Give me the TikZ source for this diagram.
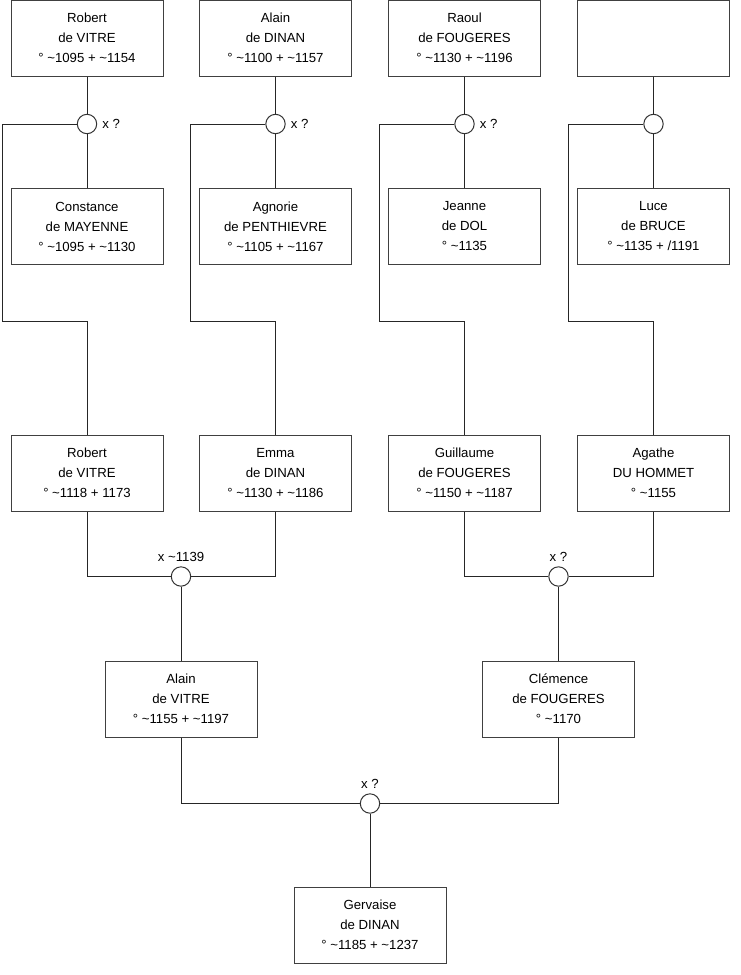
\documentclass[tikz,border=0pt]{standalone}
\usepackage{fontspec}
\setmainfont{Liberation Sans}
\begin{document}
\begin{tikzpicture}[x=1pt,y=-1pt,
  person/.style={draw=black!75, line width=1pt, rectangle, minimum width=152pt, minimum height=76pt, inner sep=0pt, align=center, font=\fontsize{13.2}{20}\selectfont, fill=white},
  union/.style={draw=black!80, line width=1pt, circle, minimum size=19.4pt, inner sep=0pt, fill=white},
  lbl/.style={font=\fontsize{13.2}{15}\selectfont, inner sep=0pt},
  link/.style={draw=black!85, line width=1pt}]
\useasboundingbox (0,0) rectangle (740,975);
% row 1
\node[person] (p11) at (87,38) {Robert\\de VITRE\\° \textasciitilde1095 + \textasciitilde1154};
\node[person] (p12) at (275.5,38) {Alain\\de DINAN\\° \textasciitilde1100 + \textasciitilde1157};
\node[person] (p13) at (464.5,38) {Raoul\\de FOUGERES\\° \textasciitilde1130 + \textasciitilde1196};
\node[person] (p14) at (653.5,38) {};
% row 2
\node[person] (p21) at (87,226.5) {Constance\\de MAYENNE\\° \textasciitilde1095 + \textasciitilde1130};
\node[person] (p22) at (275.5,226.5) {Agnorie\\de PENTHIEVRE\\° \textasciitilde1105 + \textasciitilde1167};
\node[person] (p23) at (464.5,226.5) {Jeanne\\de DOL\\° \textasciitilde1135};
\node[person] (p24) at (653.5,226.5) {Luce\\de BRUCE\\° \textasciitilde1135 + /1191};
% row 3
\node[person] (p31) at (87,473) {Robert\\de VITRE\\° \textasciitilde1118 + 1173};
\node[person] (p32) at (275.5,473) {Emma\\de DINAN\\° \textasciitilde1130 + \textasciitilde1186};
\node[person] (p33) at (464.5,473) {Guillaume\\de FOUGERES\\° \textasciitilde1150 + \textasciitilde1187};
\node[person] (p34) at (653.5,473) {Agathe\\DU HOMMET\\° \textasciitilde1155};
% row 4
\node[person] (p41) at (181,699) {Alain\\de VITRE\\° \textasciitilde1155 + \textasciitilde1197};
\node[person] (p42) at (558.5,699) {Clémence\\de FOUGERES\\° \textasciitilde1170};
% row 5
\node[person] (p5) at (370,925) {Gervaise\\de DINAN\\° \textasciitilde1185 + \textasciitilde1237};
% unions
\node[union] (u1) at (87,124) {};
\node[union] (u2) at (275.5,124) {};
\node[union] (u3) at (464.5,124) {};
\node[union] (u4) at (653.5,124) {};
\node[union] (m1) at (181,576.5) {};
\node[union] (m2) at (558.5,576.5) {};
\node[union] (m3) at (370,803.5) {};
% labels
\node[lbl, anchor=west] (x1) at ([xshift=5pt]u1.east) {x ?};
\node[lbl, anchor=west] (x2) at ([xshift=5pt]u2.east) {x ?};
\node[lbl, anchor=west] (x3) at ([xshift=5pt]u3.east) {x ?};
\node[lbl, anchor=base] (xm1) at ([yshift=5pt]m1.north) {x \textasciitilde1139};
\node[lbl, anchor=base] (xm2) at ([yshift=5pt]m2.north) {x ?};
\node[lbl, anchor=base] (xm3) at ([yshift=5pt]m3.north) {x ?};
% corner coordinates
\coordinate (a1) at (2,124);   \coordinate (b1) at (2,321.5);   \coordinate (c1) at (87,321.5);
\coordinate (a2) at (190.5,124); \coordinate (b2) at (190.5,321.5); \coordinate (c2) at (275.5,321.5);
\coordinate (a3) at (379,124); \coordinate (b3) at (379,321.5); \coordinate (c3) at (464.5,321.5);
\coordinate (a4) at (568,124); \coordinate (b4) at (568,321.5); \coordinate (c4) at (653.5,321.5);
% links top
\foreach \i in {1,2,3,4}{
  \draw[link] (p1\i.south) -- (u\i.north);
  \draw[link] (u\i.south) -- (p2\i.north);
  \draw[link] (u\i.west) -- (a\i) -- (b\i) -- (c\i) -- (p3\i.north);
}
% second generation unions
\draw[link] (p31.south) |- (m1.west);
\draw[link] (p32.south) |- (m1.east);
\draw[link] (p33.south) |- (m2.west);
\draw[link] (p34.south) |- (m2.east);
\draw[link] (m1.south) -- (p41.north);
\draw[link] (m2.south) -- (p42.north);
\draw[link] (p41.south) |- (m3.west);
\draw[link] (p42.south) |- (m3.east);
\draw[link] (m3.south) -- (p5.north);
\end{tikzpicture}
\end{document}
